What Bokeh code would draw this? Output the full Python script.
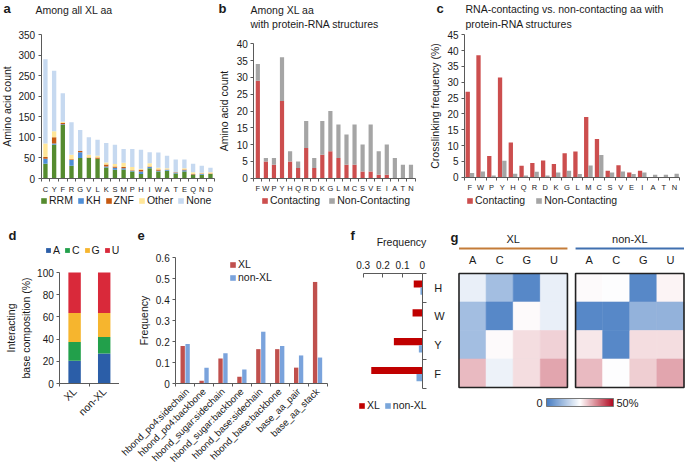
import numpy as np
from bokeh.plotting import figure
from bokeh.layouts import row, column
from bokeh.models import (Range1d, FixedTicker, Label, Legend, LegendItem, ColumnDataSource,
                          NumeralTickFormatter, LinearColorMapper, ColorBar, LinearAxis, Grid)
from bokeh.transform import transform, dodge
from bokeh.core.properties import value
from bokeh.embed import file_html
from bokeh.resources import INLINE

# ---------------- data ----------------
# a: all crosslinked amino acids by domain
aa_a = ["C", "Y", "F", "R", "G", "V", "L", "K", "S", "M", "P", "H", "I", "W", "A", "T", "E", "Q", "N", "D"]
rrm_a = [36, 82, 130, 31, 50, 50, 48, 27, 21, 22, 17, 11, 25, 17, 19, 12, 17, 9, 9, 11]
kh_a = [12, 3, 2, 14, 14, 0, 0, 2, 5, 3, 2, 6, 3, 2, 2, 2, 3, 1, 2, 0]
znf_a = [4, 15, 3, 2, 3, 1, 3, 5, 3, 3, 1, 4, 1, 3, 1, 1, 2, 1, 1, 1]
other_a = [33, 15, 3, 11, 0, 7, 4, 5, 6, 10, 8, 3, 8, 4, 3, 0, 3, 4, 2, 3]
none_a = [205, 147, 69, 79, 51, 42, 39, 47, 47, 34, 44, 46, 27, 37, 30, 31, 21, 21, 17, 11]
domains_a = ["RRM", "KH", "ZNF", "Other", "None"]

# b: XL aa with protein-RNA structures
aa_b = ["F", "W", "P", "Y", "H", "Q", "R", "D", "K", "G", "L", "M", "C", "S", "V", "E", "I", "A", "T", "N"]
contact_b = [29, 5, 4, 23, 5, 3, 9, 3, 7, 8, 6, 4, 4, 2, 2, 1, 1, 0, 0, 0]
noncontact_b = [5, 1, 2, 13, 3, 2, 8, 3, 10, 12, 10, 9, 12, 8, 14, 7, 9, 6, 4, 4]

# c: crosslinking frequency (%)
aa_c = aa_b
contact_c = [27, 38.5, 6.7, 31.5, 11, 3.6, 4.5, 5.3, 4.2, 7.6, 8.1, 19, 12.1, 2.0, 3.8, 1.5, 2.0, 0, 0, 0]
noncontact_c = [1.3, 1.8, 0.5, 5.2, 1.1, 0.5, 1.7, 0.5, 1.5, 2.0, 1.0, 3.7, 7.0, 1.5, 1.8, 1.0, 1.5, 0.8, 0.8, 1.1]

# d: interacting base composition (%)
groups_d = ["XL", "non-XL"]
bases = ["A", "C", "G", "U"]
base_A_d = [20.5, 27]
base_C_d = [17, 15]
base_G_d = [26, 21.5]
base_U_d = [36.5, 36.5]

# e: interaction type frequencies
inter_e = ["hbond_po4:sidechain", "hbond_po4:backbone", "hbond_sugar:sidechain", "hbond_sugar:backbone",
           "hbond_base:sidechain", "hbond_base:backbone", "base_aa_pair", "base_aa_stack"]
xl_e = [0.18, 0.015, 0.12, 0.033, 0.165, 0.165, 0.077, 0.485]
nonxl_e = [0.19, 0.077, 0.145, 0.068, 0.248, 0.18, 0.135, 0.125]

# f: frequency
aa_f = ["H", "W", "Y", "F"]
xl_f = [0.043, 0.049, 0.144, 0.259]
nonxl_f = [0.009, 0.0, 0.017, 0.029]

# g: heatmaps (%), rows aa_f, columns bases
xl_g = [[22, 12.5, 2.5, 22],
        [12.5, 2.5, 25.5, 22],
        [12.5, 25.5, 28.5, 29.5],
        [32, 22.5, 28.5, 34]]
nonxl_g = [[25.5, 24.8, 2.5, 26],
           [2.5, 2.5, 10.5, 10.5],
           [27.5, 2.5, 28.5, 28.5],
           [32, 24.8, 30, 34]]

# ---------------- helpers ----------------
FONT = "Liberation Sans"
AXC = "#5a5a5a"
TXT = "#1a1a1a"
BOX = {}


def make_fig(box, xmap, ymap):
    """box: page px (x0, y0, x1, y1); xmap/ymap: (value0, px0, value1, px1) placement of the data."""
    bx0, by0, bx1, by1 = box
    v0, p0, v1, p1 = xmap
    sx = (p1 - p0) / (v1 - v0)
    u0, q0, u1, q1 = ymap
    sy = (q1 - q0) / (u1 - u0)
    p = figure(width=bx1 - bx0, height=by1 - by0,
               x_range=Range1d(v0 + (bx0 - p0) / sx, v0 + (bx1 - p0) / sx),
               y_range=Range1d(u0 + (by1 - q0) / sy, u0 + (by0 - q0) / sy),
               x_axis_location=None, y_axis_location=None, title_location=None,
               min_border=0, min_border_left=0, min_border_right=0,
               min_border_top=0, min_border_bottom=0,
               output_backend="svg", toolbar_location=None)
    p.outline_line_color = None
    for r in list(p.center):
        if isinstance(r, Grid):
            r.visible = False
    BOX[p.id] = box
    return p


def lab(p, text, X, Y, size="10.5px", align="left", baseline="middle", bold=False, color=TXT):
    bx0, by0, bx1, by1 = BOX[p.id]
    p.add_layout(Label(x=X - bx0, y=by1 - Y, x_units="screen", y_units="screen",
                       text=text, text_font=FONT, text_font_size=size, text_align=align,
                       text_baseline=baseline, text_color=color,
                       text_font_style="bold" if bold else "normal"))


def add_axis(p, side, fixed, ticks, minor=(), overrides=None, bounds=None, fmt=None,
             tick_in=0, tick_out=3, minor_out=0, size="10px", standoff=3,
             label=None, lsize="10.5px", lstandoff=3, orient=None):
    ax = LinearAxis(fixed_location=fixed, ticker=FixedTicker(ticks=list(ticks), minor_ticks=list(minor)))
    if bounds is not None:
        ax.bounds = bounds
    if overrides is not None:
        ax.major_label_overrides = overrides
    if fmt is not None:
        ax.formatter = fmt
    ax.axis_line_color = AXC
    ax.major_tick_line_color = AXC if (tick_in or tick_out) else None
    ax.minor_tick_line_color = AXC if minor_out else None
    ax.major_tick_in = tick_in
    ax.major_tick_out = tick_out
    ax.minor_tick_in = 0
    ax.minor_tick_out = minor_out
    ax.major_label_text_font = FONT
    ax.major_label_text_font_size = size
    ax.major_label_text_color = TXT
    ax.major_label_standoff = standoff
    if orient is not None:
        ax.major_label_orientation = orient
    if label:
        ax.axis_label = label
        ax.axis_label_text_font = FONT
        ax.axis_label_text_font_style = "normal"
        ax.axis_label_text_font_size = lsize
        ax.axis_label_text_color = TXT
        ax.axis_label_standoff = lstandoff
    p.add_layout(ax, side)
    return ax


def cat_axis(p, labels, size, orient=None, standoff=3):
    n = len(labels)
    add_axis(p, "below", 0, range(n), minor=[i - 0.5 for i in range(n + 1)],
             overrides={i: s for i, s in enumerate(labels)}, bounds=(-0.5, n - 0.5),
             tick_out=0, minor_out=3, size=size, standoff=standoff, orient=orient)


def make_legend(p, items, X, Ybottom, orientation="horizontal", size="10.5px", spacing=6, glyph=7, lh=11):
    bx0, by0, bx1, by1 = BOX[p.id]
    leg = Legend(items=[LegendItem(label=l, renderers=[r]) for l, r in items],
                 location=(X - bx0, by1 - Ybottom), orientation=orientation,
                 label_text_font=FONT, label_text_font_size=size, label_text_color=TXT,
                 glyph_width=glyph, glyph_height=glyph, label_standoff=2, spacing=spacing,
                 padding=0, margin=0, border_line_color=None, background_fill_alpha=0,
                 label_height=lh, label_width=0)
    p.add_layout(leg)


# ---------------- panel a ----------------
col_a = ["#558b2f", "#4f8ed6", "#c65911", "#ffe699", "#c6d9f0"]
n_a = len(aa_a)
pa = make_fig((0, 0, 216, 225), (-0.5, 40.6, n_a - 0.5, 214.3), (0, 178, 350, 34))
src_a = ColumnDataSource(dict(x=list(range(n_a)), RRM=rrm_a, KH=kh_a, ZNF=znf_a,
                              Other=other_a, none=none_a))
rs_a = pa.vbar_stack(["RRM", "KH", "ZNF", "Other", "none"], x="x", width=0.5,
                     fill_color=col_a, line_color=None, source=src_a)
cat_axis(pa, aa_a, "7.5px")
add_axis(pa, "left", -0.5, range(0, 351, 50), bounds=(0, 350), label="Amino acid count")
make_legend(pa, list(zip(domains_a, rs_a)), 40, 206, spacing=4, size="10.5px")
lab(pa, "a", 3, 8, size="13px", bold=True)
lab(pa, "Among all XL aa", 35, 9)

# ---------------- panel b ----------------
col_cn = ["#cc4e4e", "#a5a5a5"]
n_b = len(aa_b)
pb = make_fig((216, 0, 426, 225), (-0.5, 253.3, n_b - 0.5, 414.5), (0, 177.7, 40, 43.3))
src_b = ColumnDataSource(dict(x=list(range(n_b)), c=contact_b, n=noncontact_b))
rs_b = pb.vbar_stack(["c", "n"], x="x", width=0.52, fill_color=col_cn, line_color=None, source=src_b)
cat_axis(pb, aa_b, "7.5px")
add_axis(pb, "left", -0.5, range(0, 41, 5), bounds=(0, 40), label="Amino acid count")
make_legend(pb, list(zip(["Contacting", "Non-Contacting"], rs_b)), 261, 206, spacing=8)
lab(pb, "b", 218, 8, size="13px", bold=True)
lab(pb, "Among XL aa", 250, 9)
lab(pb, "with protein-RNA structures", 250, 23)

# ---------------- panel c ----------------
n_c = len(aa_c)
pc = make_fig((426, 0, 685, 225), (-0.5, 464, n_c - 0.5, 679.4), (0, 176.7, 45, 34.3))
src_c = ColumnDataSource(dict(x=list(range(n_c)), c=contact_c, n=noncontact_c))
r_c1 = pc.vbar(x=dodge("x", -0.2), top="c", width=0.4, fill_color=col_cn[0], line_color=None, source=src_c)
r_c2 = pc.vbar(x=dodge("x", 0.2), top="n", width=0.4, fill_color=col_cn[1], line_color=None, source=src_c)
cat_axis(pc, aa_c, "7.5px")
add_axis(pc, "left", -0.5, range(0, 46, 5), bounds=(0, 45), label="Crosslinking frequency (%)")
make_legend(pc, [("Contacting", r_c1), ("Non-Contacting", r_c2)], 466, 206, spacing=10)
lab(pc, "c", 436, 8, size="13px", bold=True)
lab(pc, "RNA-contacting vs. non-contacting aa with", 465, 8)
lab(pc, "protein-RNA structures", 465, 23)

# ---------------- panel d ----------------
col_d = ["#2b5ea8", "#22a04b", "#f6b52e", "#d9293a"]
pd_ = make_fig((0, 225, 119, 473), (-0.5, 59.3, 1.5, 118.5), (0, 383, 100, 272))
src_d = ColumnDataSource(dict(x=[0, 1], A=base_A_d, C=base_C_d, G=base_G_d, U=base_U_d))
rs_d = pd_.vbar_stack(bases, x="x", width=0.42, fill_color=col_d, line_color=None, source=src_d)
cat_axis(pd_, groups_d, "10.5px", orient=np.pi / 4)
add_axis(pd_, "left", -0.5, range(0, 101, 20), bounds=(0, 100),
         label="Interacting\nbase composition (%)", lstandoff=2)
make_legend(pd_, list(zip(bases, rs_d)), 45, 256, spacing=4, glyph=6)
lab(pd_, "d", 8, 235, size="13px", bold=True)

# ---------------- panel e ----------------
col_e = ["#c0504d", "#7aa3dc"]
n_e = len(inter_e)
pe = make_fig((119, 225, 348, 473), (-0.5, 175.2, n_e - 0.5, 326.5), (0, 383.3, 0.6, 257.3))
src_e = ColumnDataSource(dict(x=list(range(n_e)), xl=xl_e, nx=nonxl_e))
r_e1 = pe.vbar(x=dodge("x", -0.13), top="xl", width=0.23, fill_color=col_e[0], line_color=None, source=src_e)
r_e2 = pe.vbar(x=dodge("x", 0.13), top="nx", width=0.23, fill_color=col_e[1], line_color=None, source=src_e)
cat_axis(pe, inter_e, "9.5px", orient=np.pi / 4)
add_axis(pe, "left", -0.5, [0, 0.1, 0.2, 0.3, 0.4, 0.5, 0.6], bounds=(0, 0.6),
         fmt=NumeralTickFormatter(format="0.[0]"), label="Frequency")
make_legend(pe, [("XL", r_e1), ("non-XL", r_e2)], 229, 283, orientation="vertical", spacing=1)
lab(pe, "e", 137, 235, size="13px", bold=True)

# ---------------- panel f ----------------
col_f = ["#c00000", "#7aa6da"]
n_f = len(aa_f)
pf = make_fig((348, 225, 447, 473), (0.3, 362.7, 0, 421.7), (0, 272.7, n_f, 388))
src_f = ColumnDataSource(dict(y=[i + 0.5 for i in range(n_f)], xl=xl_f, nx=nonxl_f))
r_f1 = pf.hbar(y=dodge("y", -0.125), left=0, right="xl", height=0.25, fill_color=col_f[0],
               line_color=None, source=src_f)
r_f2 = pf.hbar(y=dodge("y", 0.125), left=0, right="nx", height=0.25, fill_color=col_f[1],
               line_color=None, source=src_f)
add_axis(pf, "above", 0, [0, 0.1, 0.2, 0.3], bounds=(0, 0.3), fmt=NumeralTickFormatter(format="0.[0]"),
         tick_in=4, tick_out=0, size="10px", standoff=4)
add_axis(pf, "right", 0, [i + 0.5 for i in range(n_f)], minor=list(range(n_f + 1)),
         overrides={i + 0.5: s for i, s in enumerate(aa_f)}, bounds=(0, n_f),
         tick_out=0, minor_out=4, size="11px", standoff=8)
make_legend(pf, [("XL", r_f1), ("non-XL", r_f2)], 358, 411, spacing=4)
lab(pf, "f", 350, 235, size="13px", bold=True)
lab(pf, "Frequency", 401, 241, align="center")

# ---------------- panel g ----------------
GAP = 0.3
nb, nr = len(bases), len(aa_f)
pg = make_fig((447, 225, 685, 473), (0, 458.5, 2 * nb + GAP, 683.5), (0, 387, nr, 273))


def gy(Y):
    # page px -> data y of panel g
    return nr * (387 - Y) / (387 - 273)


def build_palette():
    lo, mid, hi = (70, 124, 194), (255, 255, 255), (176, 8, 32)
    out = []
    for i in range(256):
        t = i / 255
        if t < 0.5:
            a, b, u = lo, mid, t * 2
        else:
            a, b, u = mid, hi, (t - 0.5) * 2
        out.append("#%02x%02x%02x" % tuple(round(x + (y - x) * u) for x, y in zip(a, b)))
    return out


mapper = LinearColorMapper(palette=build_palette(), low=0, high=50)
offs = [0, nb + GAP]
gx, gyy, gv = [], [], []
for off, mat in zip(offs, [xl_g, nonxl_g]):
    for r, rowvals in enumerate(mat):
        for c, v in enumerate(rowvals):
            gx.append(off + c + 0.5)
            gyy.append(nr - r - 0.5)
            gv.append(v)
src_g = ColumnDataSource(dict(x=gx, y=gyy, v=gv))
pg.rect(x="x", y="y", width=1, height=1, source=src_g,
        fill_color=transform("v", mapper), line_color=transform("v", mapper), line_width=0.6)
pg.rect(x=[o + nb / 2 for o in offs], y=[nr / 2] * 2, width=nb, height=nr,
        fill_color=None, line_color="#222222", line_width=1.6)
pg.segment(x0=offs, x1=[o + nb for o in offs], y0=[gy(248)] * 2, y1=[gy(248)] * 2,
           line_color=["#c47c39", "#4070b0"], line_width=2.2)
pg.text(x=[o + nb / 2 for o in offs], y=[gy(238)] * 2, text=groups_d, text_font=value(FONT),
        text_font_size="11px", text_align="center", text_baseline="middle", text_color=TXT)
pg.text(x=[o + c + 0.5 for o in offs for c in range(nb)], y=[gy(259)] * (2 * nb),
        text=bases * 2, text_font=value(FONT), text_font_size="11px",
        text_align="center", text_baseline="middle", text_color=TXT)
gbx0, gby0, gbx1, gby1 = BOX[pg.id]
cb = ColorBar(color_mapper=mapper, orientation="horizontal", width=67, height=8,
              location=(546 - gbx0, gby1 - 406), padding=0, margin=0,
              ticker=FixedTicker(ticks=[]), major_tick_line_color=None, major_label_text_font_size="0px",
              bar_line_color="#777777", border_line_color=None, background_fill_alpha=0, label_standoff=0)
pg.add_layout(cb)
lab(pg, "0", 539, 402, size="11px", align="center")
lab(pg, "50%", 616, 402, size="11px")
lab(pg, "g", 450, 237, size="13px", bold=True)

layout = column(row(pa, pb, pc, spacing=0), row(pd_, pe, pf, pg, spacing=0), spacing=0)
open("out.html", "w").write(file_html(layout, INLINE))
